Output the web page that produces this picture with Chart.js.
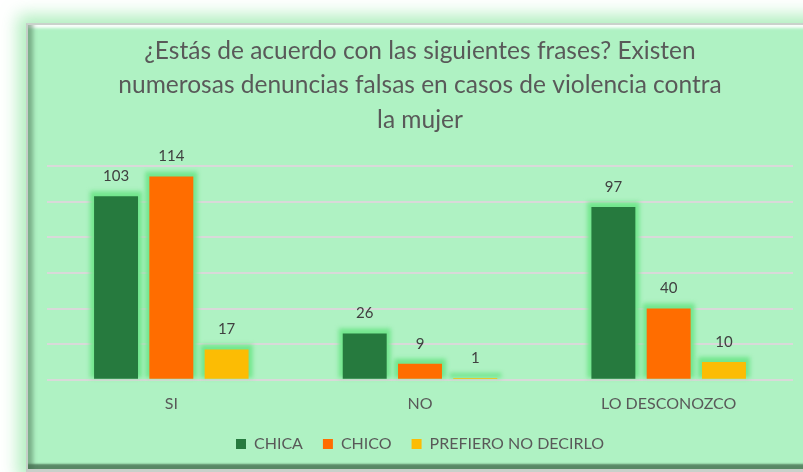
<!DOCTYPE html>
<html lang="es">
<head>
  <meta charset="UTF-8" />
  <title>Denuncias falsas en casos de violencia contra la mujer</title>
  <script src="https://cdn.jsdelivr.net/npm/chart.js"></script>
  <style>
    html, body {
      margin: 0;
      padding: 0;
      background: #ffffff;
      overflow: hidden;
    }
    .wrap {
      position: relative;
      width: 803px;
      height: 472px;
    }
    .card {
      position: absolute;
      left: 26px;
      top: 23px;
      width: 790px;
      height: 444px;
      background: #aff2c3;
      border-top: 2px solid #c9d2cb;
      border-left: 2px solid #c5cec7;
      border-bottom: 3px solid #c8d0ca;
      box-shadow:
        0 0 16px 8px rgba(150, 232, 168, 0.75),
        inset 10px 0 4px -5px rgba(70, 110, 80, 0.5),
        inset 0 -7px 2px -2px rgba(60, 100, 70, 0.75),
        inset 0 10px 3px -7px rgba(255, 255, 255, 0.95);
    }
    canvas {
      position: absolute;
      left: 0;
      top: 0;
    }
  </style>
</head>
<body>
  <div class="wrap">
    <div class="card"></div>
    <canvas id="grafico" width="803" height="472"></canvas>
  </div>

  <script>
    const categorias = ['SI', 'NO', 'LO DESCONOZCO'];
    const chica = [103, 26, 97];
    const chico = [114, 9, 40];
    const prefieroNoDecirlo = [17, 1, 10];

    const titulo = [
      '¿Estás de acuerdo con las siguientes frases? Existen',
      'numerosas denuncias falsas en casos de violencia contra',
      'la mujer'
    ];

    const textoGris = '#595959';
    const fuente = 'Lato, "Open Sans", sans-serif';

    // halo verde claro alrededor de cada barra
    const brilloBarras = {
      id: 'brilloBarras',
      beforeDatasetsDraw(chart) {
        const ctx = chart.ctx;
        ctx.save();
        ctx.fillStyle = '#72e68d';
        ctx.filter = 'blur(2px)';
        chart.data.datasets.forEach((ds, i) => {
          chart.getDatasetMeta(i).data.forEach(bar => {
            const w = bar.width + 8;
            ctx.fillRect(bar.x - w / 2, bar.y - 5, w, bar.base - bar.y + 4);
          });
        });
        ctx.restore();
      }
    };

    // números encima de cada barra
    const etiquetasValor = {
      id: 'etiquetasValor',
      afterDatasetsDraw(chart) {
        const ctx = chart.ctx;
        ctx.save();
        ctx.fillStyle = '#404040';
        ctx.font = '15px ' + fuente;
        ctx.textAlign = 'center';
        ctx.textBaseline = 'middle';
        chart.data.datasets.forEach((ds, i) => {
          chart.getDatasetMeta(i).data.forEach((bar, j) => {
            ctx.fillText(String(ds.data[j]), bar.x, bar.y - 20);
          });
        });
        ctx.restore();
      }
    };

    // sube un poco la leyenda hacia las etiquetas del eje
    const subirLeyenda = {
      id: 'subirLeyenda',
      afterLayout(chart) {
        chart.legend.top -= 3;
        chart.legend.bottom -= 3;
      }
    };

    new Chart(document.getElementById('grafico'), {
      type: 'bar',
      data: {
        labels: categorias,
        datasets: [
          { label: 'CHICA', data: chica, backgroundColor: '#267a3e' },
          { label: 'CHICO', data: chico, backgroundColor: '#ff6d00' },
          { label: 'PREFIERO NO DECIRLO', data: prefieroNoDecirlo, backgroundColor: '#fcbc04' }
        ]
      },
      options: {
        responsive: false,
        animation: false,
        events: [],
        layout: {
          padding: { left: 47, right: 10, top: 0, bottom: 7 }
        },
        datasets: {
          bar: { categoryPercentage: 0.667, barPercentage: 0.795 }
        },
        plugins: {
          title: {
            display: true,
            text: titulo,
            color: textoGris,
            font: { family: fuente, size: 24.5, weight: 'normal', lineHeight: 1.4 },
            padding: { top: 34, bottom: 29 }
          },
          legend: {
            position: 'bottom',
            labels: {
              color: textoGris,
              font: { family: fuente, size: 16 },
              boxWidth: 10,
              boxHeight: 10,
              padding: 20
            }
          },
          tooltip: { enabled: false }
        },
        scales: {
          x: {
            grid: { display: false },
            border: { display: false },
            ticks: {
              color: textoGris,
              font: { family: fuente, size: 16 },
              padding: 6
            }
          },
          y: {
            min: 0,
            max: 120,
            ticks: { display: false, stepSize: 20 },
            grid: { color: '#d9d9d9', lineWidth: 2, drawTicks: false },
            border: { display: false }
          }
        }
      },
      plugins: [brilloBarras, etiquetasValor, subirLeyenda]
    });
  </script>
</body>
</html>
